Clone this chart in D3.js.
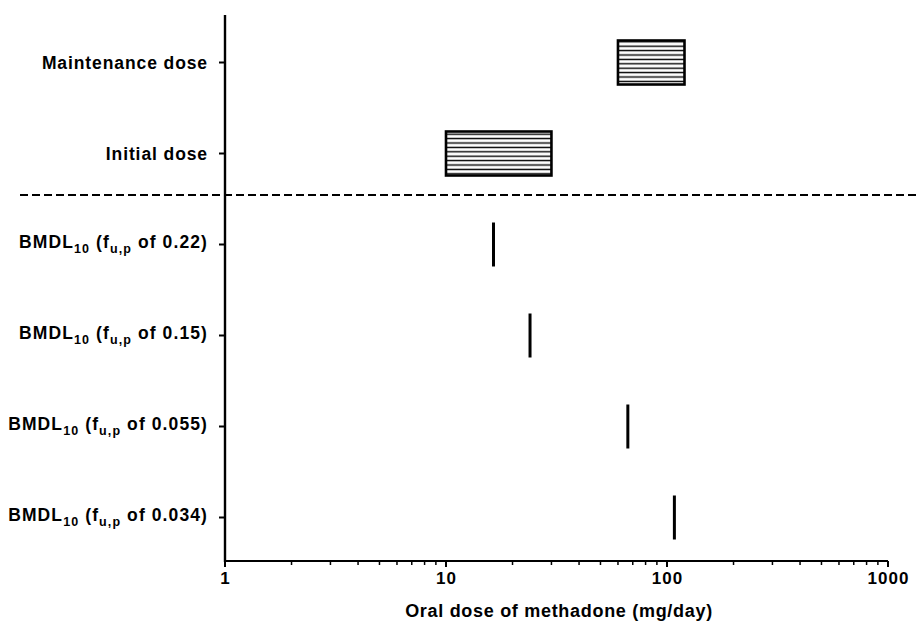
<!DOCTYPE html>
<html>
<head>
<meta charset="utf-8">
<script src="https://cdn.jsdelivr.net/npm/d3@7"></script>
<style>
  body { margin: 0; background: #fff; }
  svg { display: block; font-family: "Liberation Sans", Arial, sans-serif; font-weight: bold; }
</style>
</head>
<body>
<svg id="chart" width="920" height="624"></svg>
<script>
// --- datos ---
const categories = ['maint', 'initial', 'b022', 'b015', 'b0055', 'b0034'];
const rangeCats = ['maint', 'initial'];
const rangeLow = [60, 10];
const rangeHigh = [120, 30];
const bmdlCats = ['b022', 'b015', 'b0055', 'b0034'];
const bmdlValues = [16.4, 24, 66.5, 108];
const fupLabels = ['0.22', '0.15', '0.055', '0.034'];
const xTicks = [1, 10, 100, 1000];

const svg = d3.select('#chart');
const xMin = 225, xMax = 888, yTop = 15, yBottom = 561;

const x = d3.scaleLog().domain([1, 1000]).range([xMin, xMax]);
const y = d3.scalePoint().domain(categories).range([yTop + 2, yBottom + 2]).padding(0.5);

// hatch pattern
const defs = svg.append('defs');
defs.append('pattern')
    .attr('id', 'hatch').attr('patternUnits', 'userSpaceOnUse')
    .attr('width', 10).attr('height', 4.4)
    .append('line')
    .attr('x1', 0).attr('x2', 10).attr('y1', 2.2).attr('y2', 2.2)
    .attr('stroke', '#000').attr('stroke-width', 1.4);

// dashed separator
const sepY = (y('initial') + y('b022')) / 2 - 4;
svg.append('line')
    .attr('x1', 20).attr('x2', 920).attr('y1', sepY).attr('y2', sepY)
    .attr('stroke', '#000').attr('stroke-width', 2.2)
    .attr('stroke-dasharray', '8,4');

// x axis (log, ticks hacia abajo)
const minorTicks = [];
for (let d = 1; d < 1000; d *= 10) for (let k = 2; k <= 9; k++) minorTicks.push(d * k);

const xg = svg.append('g').attr('transform', `translate(0,${yBottom})`);
xg.append('line').attr('x1', xMin).attr('x2', xMax).attr('stroke', '#000').attr('stroke-width', 2.2);
xg.selectAll('line.minor').data(minorTicks).enter().append('line')
    .attr('class', 'minor')
    .attr('x1', d => x(d)).attr('x2', d => x(d)).attr('y1', 0).attr('y2', 4)
    .attr('stroke', '#000').attr('stroke-width', 1.5);
xg.selectAll('line.major').data(xTicks).enter().append('line')
    .attr('class', 'major')
    .attr('x1', d => x(d)).attr('x2', d => x(d)).attr('y1', 0).attr('y2', 6)
    .attr('stroke', '#000').attr('stroke-width', 2);
xg.selectAll('text').data(xTicks).enter().append('text')
    .attr('x', d => x(d) + 0.5).attr('y', 23)
    .attr('text-anchor', 'middle').attr('font-size', 17).attr('letter-spacing', 1)
    .text(d => d);

svg.append('text')
    .attr('x', 559).attr('y', 617)
    .attr('text-anchor', 'middle').attr('font-size', 18).attr('letter-spacing', 0.7)
    .text('Oral dose of methadone (mg/day)');

// y axis
svg.append('line')
    .attr('x1', xMin).attr('x2', xMin).attr('y1', yTop).attr('y2', yBottom + 1)
    .attr('stroke', '#000').attr('stroke-width', 2.4);
svg.selectAll('line.ytick').data(categories).enter().append('line')
    .attr('class', 'ytick')
    .attr('x1', xMin - 6).attr('x2', xMin).attr('y1', d => y(d)).attr('y2', d => y(d))
    .attr('stroke', '#000').attr('stroke-width', 2);

const labelX = xMin - 17;
svg.append('text').attr('x', labelX).attr('y', y('maint') + 6)
    .attr('text-anchor', 'end').attr('font-size', 17.5).attr('letter-spacing', 0.9)
    .text('Maintenance dose');
svg.append('text').attr('x', labelX).attr('y', y('initial') + 6)
    .attr('text-anchor', 'end').attr('font-size', 17.5).attr('letter-spacing', 0.9)
    .text('Initial dose');

bmdlCats.forEach((c, i) => {
    const t = svg.append('text').attr('x', labelX).attr('y', y(c) + 3)
        .attr('text-anchor', 'end').attr('font-size', 17.5).attr('letter-spacing', 1.1);
    t.append('tspan').text('BMDL');
    t.append('tspan').attr('dy', 5).attr('font-size', 12.5).text('10');
    t.append('tspan').attr('dy', -5).text(' (f');
    t.append('tspan').attr('dy', 5).attr('font-size', 12.5).text('u,p');
    t.append('tspan').attr('dy', -5).text(` of ${fupLabels[i]})`);
});

// rangos de dosis
const boxH = 44;
svg.selectAll('rect.range').data(rangeCats).enter().append('rect')
    .attr('class', 'range')
    .attr('x', (d, i) => x(rangeLow[i]))
    .attr('width', (d, i) => x(rangeHigh[i]) - x(rangeLow[i]))
    .attr('y', d => y(d) - boxH / 2).attr('height', boxH)
    .attr('fill', 'url(#hatch)')
    .attr('stroke', '#000').attr('stroke-width', 2.6);

// BMDL10
const barH = 44;
svg.selectAll('line.bmdl').data(bmdlCats).enter().append('line')
    .attr('class', 'bmdl')
    .attr('x1', (d, i) => x(bmdlValues[i])).attr('x2', (d, i) => x(bmdlValues[i]))
    .attr('y1', d => y(d) - barH / 2).attr('y2', d => y(d) + barH / 2)
    .attr('stroke', '#000').attr('stroke-width', 3);
</script>
</body>
</html>
